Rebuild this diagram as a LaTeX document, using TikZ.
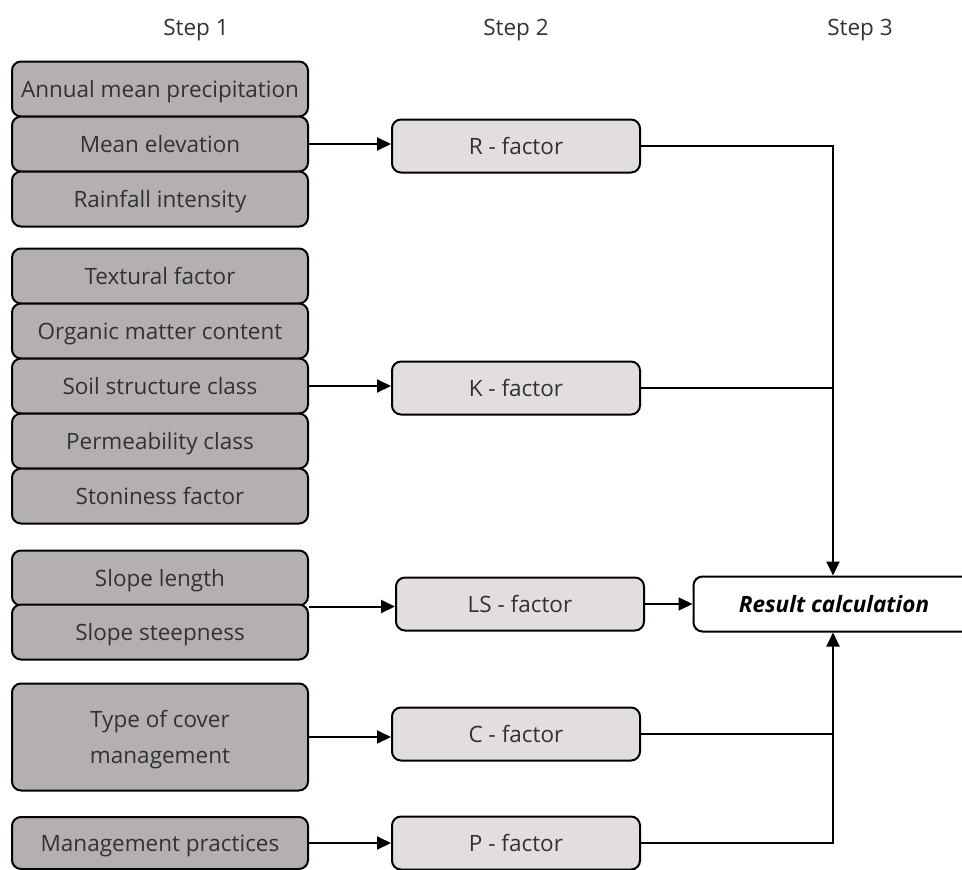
\documentclass[tikz,border=0pt]{standalone}
\usepackage{fontspec}
\setmainfont{Open Sans}
\usetikzlibrary{arrows.meta}
\definecolor{inputgray}{RGB}{180,176,175}
\definecolor{factorgray}{RGB}{225,222,221}
\definecolor{textgray}{RGB}{50,50,50}
\begin{document}
\begin{tikzpicture}[x=1pt,y=-1pt,line width=2pt,
    boxfont/.style={font=\fontsize{22.5}{27}\selectfont},
    inputbox/.style={boxfont,draw=black,fill=inputgray,text=textgray,rounded corners=9pt,
      minimum width=296pt,minimum height=55pt,inner sep=0pt,align=center,text depth=0pt},
    factorbox/.style={boxfont,draw=black,fill=factorgray,text=textgray,rounded corners=9pt,
      minimum width=248pt,minimum height=53pt,inner sep=0pt,text depth=0pt},
    resultbox/.style={boxfont,draw=black,fill=white,rounded corners=9pt,
      minimum width=281pt,minimum height=55pt,inner sep=0pt,text depth=0pt},
    steplabel/.style={boxfont,text=textgray},
    arr/.style={-{Triangle[length=14pt,width=13pt]}}]
    \useasboundingbox (0,0) rectangle (962,870);

    % step headings
    \node[steplabel] (step1) at (196,30) {Step 1};
    \node[steplabel] (step2) at (516,30) {Step 2};
    \node[steplabel] (step3) at (860,30) {Step 3};

    % step 1: inputs
    \node[inputbox] (precip) at (160,89) {Annual mean precipitation};
    \node[inputbox] (elev) at (160,144) {Mean elevation};
    \node[inputbox] (rain) at (160,199) {Rainfall intensity};

    \node[inputbox] (texture) at (160,276) {Textural factor};
    \node[inputbox] (organic) at (160,331) {Organic matter content};
    \node[inputbox] (structure) at (160,386) {Soil structure class};
    \node[inputbox] (perm) at (160,441) {Permeability class};
    \node[inputbox] (stone) at (160,496) {Stoniness factor};

    \node[inputbox] (slopelen) at (160,578) {Slope length};
    \node[inputbox] (slopesteep) at (160,632) {Slope steepness};

    \node[inputbox,minimum height=107pt] (cover) at (160,737) {Type of cover\\[9pt]management};
    \node[inputbox,minimum height=52pt] (practice) at (160,843) {Management practices};

    % step 2: factors
    \node[factorbox] (rf) at (516,146) {R - factor};
    \node[factorbox] (kf) at (516,388) {K - factor};
    \node[factorbox] (lsf) at (520,604) {LS - factor};
    \node[factorbox] (cf) at (516,734) {C - factor};
    \node[factorbox] (pf) at (516,843) {P - factor};

    % step 3
    \node[resultbox] (res) at (834,604) {\textbf{\textit{Result calculation}}};
    \coordinate (join) at (833,0);

    \draw[arr] (elev.east) -- (elev.east -| rf.west);
    \draw[arr] (structure.east) -- (structure.east -| kf.west);
    \draw[arr] (slopelen.south -| slopelen.east) -- (slopelen.south -| lsf.west);
    \draw[arr] (cover.east) -- (cover.east -| cf.west);
    \draw[arr] (practice.east) -- (practice.east -| pf.west);

    \draw[arr] (lsf.east) -- (res.west);
    \draw[arr] (rf.east) -| (res.north -| join);
    \draw (kf.east) -- (kf.east -| join);
    \draw[arr] (pf.east) -| (res.south -| join);
    \draw (cf.east) -- (cf.east -| join);
\end{tikzpicture}
\end{document}
